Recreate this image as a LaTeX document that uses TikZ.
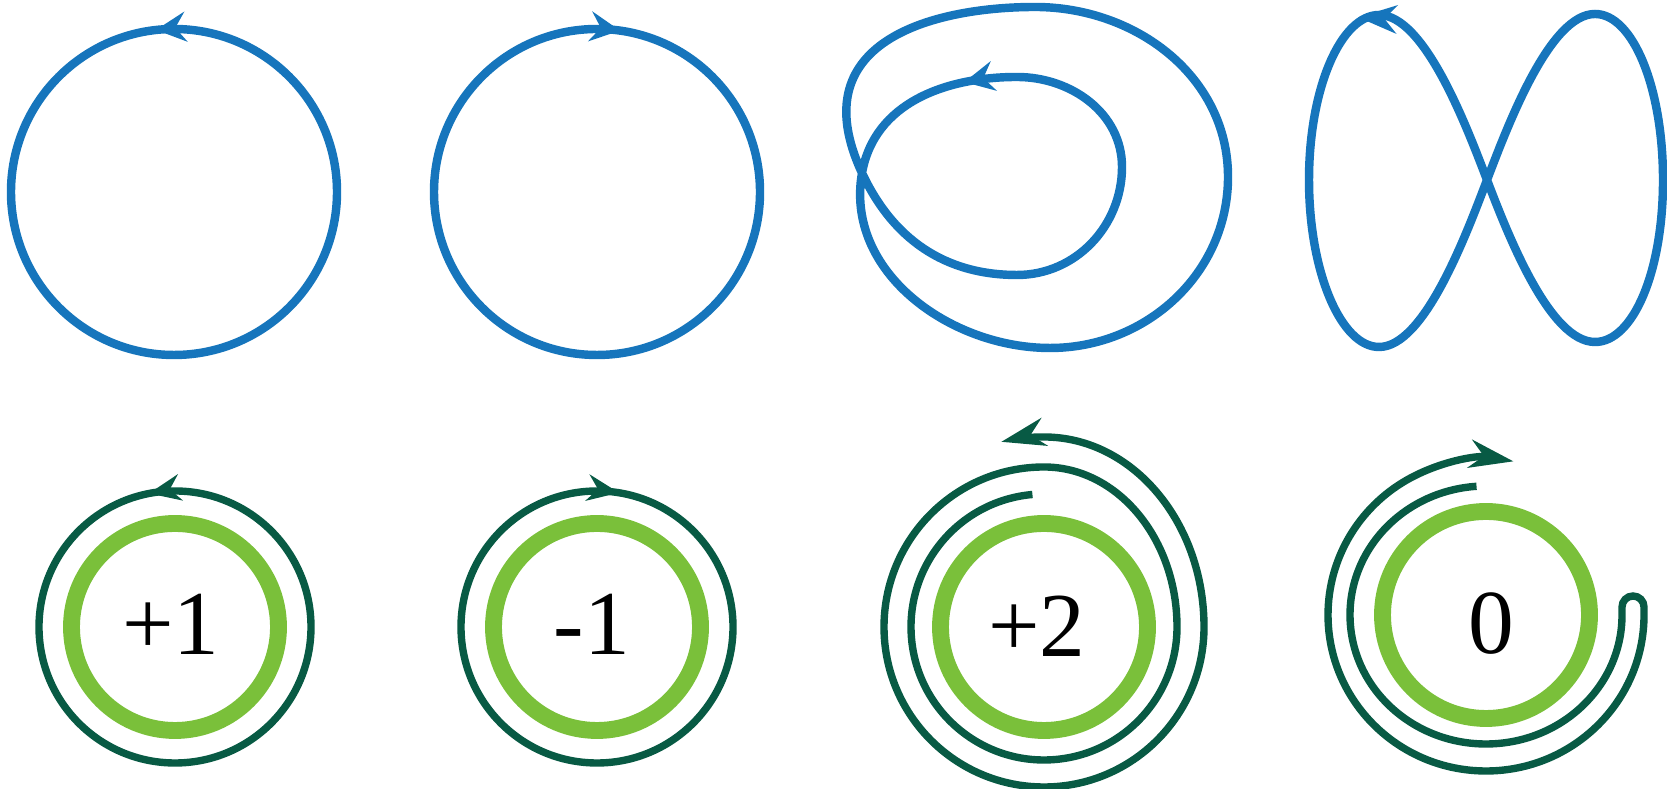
\documentclass[tikz,border=0pt]{standalone}
\usepackage{fontspec}
\setmainfont{Liberation Serif}
\usetikzlibrary{arrows.meta,decorations.markings}
\definecolor{loopblue}{RGB}{22,117,188}
\definecolor{pathgreen}{RGB}{8,90,68}
\definecolor{ringgreen}{RGB}{122,192,58}
\tikzset{
  bluetip/.tip={Stealth[length=8.5pt,width=8.5pt,inset=3pt]},
  eighttip/.tip={Stealth[length=11pt,width=8pt,inset=3.5pt]},
  ringtip/.tip={Stealth[length=9pt,width=7.5pt,inset=3pt]},
  spiraltip/.tip={Stealth[length=12.5pt,width=8pt,inset=4pt]},
  headat/.style 2 args={postaction={decorate},
    decoration={markings,mark=at position #1 with {#2}}},
}
\begin{document}
\begin{tikzpicture}[x=0.01cm,y=0.01cm,
    bluecurve/.style={color=loopblue,line width=2.4pt},
    darkcurve/.style={color=pathgreen,line width=2.1pt},
    greenring/.style={color=ringgreen,line width=4.8pt},
    windnum/.style={font=\fontsize{26}{30}\selectfont,inner sep=0pt}]
  \useasboundingbox (0,0) rectangle (1667,789);
  % top row: the closed loops
  \draw[bluecurve,headat={0.2676}{\arrow{bluetip}}] (174,597) circle (163);
  \draw[bluecurve,headat={0.2275}{\arrowreversed{bluetip}}] (597,597) circle (163);
  \draw[bluecurve,headat={0.53cm}{\arrow{bluetip}}]
    (1017,712) to[out=180,in=80] (862,616) to[out=260,in=180] (1050,441)
    to[out=0,in=270] (1228,612) to[out=90,in=0] (1035,782)
    to[out=180,in=115,in looseness=1.6] (862,616)
    to[out=295,in=180] (1017,514) to[out=0,in=270] (1122,622)
    to[out=90,in=0] (1017,712) -- cycle;
  % tip of the figure eight sits a little past the top, tilted up
  \draw[bluecurve,headat={1pt}{\pgftransformxshift{5pt}\pgftransformrotate{-10}\arrow{eighttip}}]
    (1379,774) .. controls +(-38,0) and +(0,92) .. (1309,609)
    .. controls +(0,-92) and +(-38,0) .. (1379,442)
    .. controls +(45,0) and +(-21.7,-57) .. (1487,609)
    .. controls +(21.7,57) and +(-45,0) .. (1595,775)
    .. controls +(38,0) and +(0,92) .. (1663,609)
    .. controls +(0,-92) and +(38,0) .. (1595,447)
    .. controls +(-45,0) and +(21.7,-57) .. (1487,609)
    .. controls +(-21.7,57) and +(45,0) .. (1379,774) -- cycle;
  % bottom row: rings with their paths
  \begin{scope}[shift={(175,162)}]
    \draw[greenring] (0,0) circle (103.5);
    \draw[darkcurve,headat={0.2806}{\arrow{ringtip}}] (0,0) circle (136);
    \node[windnum] (wplus1) at (-4,3) {+1};
  \end{scope}
  \begin{scope}[shift={(597,162)}]
    \draw[greenring] (0,0) circle (103.5);
    \draw[darkcurve,headat={0.2242}{\arrowreversed{ringtip}}] (0,0) circle (136);
    \node[windnum] (wminus1) at (-5,3) {-1};
  \end{scope}
  \begin{scope}[shift={(1044,162)}]
    \draw[greenring] (0,0) circle (103.5);
    \draw[darkcurve,-{spiraltip}] (95:133)
      arc[start angle=95,end angle=360,radius=133]
      arc[start angle=0,end angle=90,x radius=133,y radius=160]
      arc[start angle=90,end angle=360,radius=160]
      arc[start angle=0,end angle=90,x radius=160,y radius=190]
      arc[start angle=90,end angle=103,radius=190];
    \node[windnum] (wplus2) at (-7,1) {+2};
  \end{scope}
  \begin{scope}[shift={(1486,174)}]
    \draw[greenring] (0,0) circle (103.5);
    \draw[darkcurve,-{spiraltip}] (94:136 and 129)
      arc[start angle=94,end angle=360,x radius=136,y radius=129]
      -- ++(0,8) arc[start angle=180,end angle=0,radius=11] -- ++(0,-8)
      arc[start angle=0,end angle=-280,x radius=158,y radius=156];
    \node[windnum] (wzero) at (5,-9) {0};
  \end{scope}
\end{tikzpicture}
\end{document}
